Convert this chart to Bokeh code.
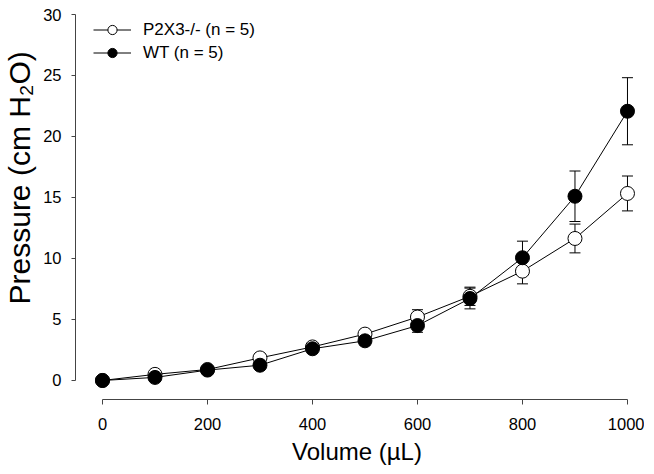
from bokeh.plotting import figure
from bokeh.models import Range1d, FixedTicker, Whisker, TeeHead, ColumnDataSource, Legend, LegendItem
from bokeh.embed import file_html
from bokeh.resources import INLINE

volume = [0, 100, 200, 300, 400, 500, 600, 700, 800, 900, 1000]
ko_mean = [0.0, 0.5, 0.9, 1.85, 2.75, 3.8, 5.2, 6.9, 8.96, 11.64, 15.33]
ko_err = [0.05, 0.12, 0.12, 0.2, 0.3, 0.3, 0.6, 0.75, 1.04, 1.18, 1.43]
wt_mean = [0.0, 0.25, 0.85, 1.25, 2.6, 3.25, 4.5, 6.72, 10.06, 15.1, 22.07]
wt_err = [0.05, 0.1, 0.12, 0.2, 0.35, 0.35, 0.55, 0.85, 1.36, 2.07, 2.75]
x_ticks = [0, 200, 400, 600, 800, 1000]
y_ticks = [0, 5, 10, 15, 20, 25, 30]
ko_label = "P2X3-/- (n = 5)"
wt_label = "WT (n = 5)"
x_title = "Volume (µL)"
y_title = "Pressure (cm H₂O)"

FONT = "Liberation Sans"

ko_src = ColumnDataSource(dict(x=volume, y=ko_mean,
                               lo=[m - e for m, e in zip(ko_mean, ko_err)],
                               hi=[m + e for m, e in zip(ko_mean, ko_err)]))
wt_src = ColumnDataSource(dict(x=volume, y=wt_mean,
                               lo=[m - e for m, e in zip(wt_mean, wt_err)],
                               hi=[m + e for m, e in zip(wt_mean, wt_err)]))

p = figure(frame_width=563, frame_height=385,
           x_range=Range1d(-51.4, 1021), y_range=Range1d(-1.56, 30),
           min_border_left=67, min_border_top=14, min_border_right=6, min_border_bottom=60,
           output_backend="svg", toolbar_location=None)
p.outline_line_color = None
p.xgrid.visible = False
p.ygrid.visible = False

for src in (ko_src, wt_src):
    w = Whisker(source=src, base="x", lower="lo", upper="hi", dimension="height",
                line_color="black", line_width=1,
                lower_head=TeeHead(size=11, line_color="black", line_width=1),
                upper_head=TeeHead(size=11, line_color="black", line_width=1))
    w.level = "underlay"
    p.add_layout(w)

ko_line = p.line("x", "y", source=ko_src, line_color="black", line_width=1)
ko_pts = p.scatter("x", "y", source=ko_src, size=14, fill_color="white", line_color="black", line_width=1)
wt_line = p.line("x", "y", source=wt_src, line_color="black", line_width=1)
wt_pts = p.scatter("x", "y", source=wt_src, size=14, fill_color="black", line_color="black", line_width=1)

legend = Legend(items=[LegendItem(label=ko_label, renderers=[ko_line, ko_pts]),
                       LegendItem(label=wt_label, renderers=[wt_line, wt_pts])],
                location=(18, 335), padding=2, margin=0, spacing=0,
                glyph_height=23, glyph_width=38, label_height=23, label_standoff=12,
                border_line_color=None, background_fill_alpha=0,
                label_text_font=FONT, label_text_font_size="17px", label_text_color="black")
p.add_layout(legend)

for ax in (p.xaxis[0], p.yaxis[0]):
    ax.axis_line_color = "#444444"
    ax.major_tick_line_color = "#444444"
    ax.minor_tick_line_color = None
    ax.major_tick_in = 0
    ax.major_label_text_font = FONT
    ax.major_label_text_font_size = "16.5px"
    ax.major_label_text_color = "black"
    ax.axis_label_text_font = FONT
    ax.axis_label_text_font_style = "normal"
    ax.axis_label_text_color = "black"

p.xaxis.bounds = (0, 1000)
p.xaxis.ticker = FixedTicker(ticks=x_ticks)
p.xaxis.major_tick_out = 5
p.xaxis.major_label_standoff = 13
p.xaxis.axis_label = x_title
p.xaxis.axis_label_text_font_size = "24px"
p.xaxis.axis_label_standoff = 5

p.yaxis.bounds = (0, 30)
p.yaxis.ticker = FixedTicker(ticks=y_ticks)
p.yaxis.major_tick_out = 4
p.yaxis.major_label_standoff = 10
# leading no-break spaces shift the centred title upward, as in the reference
p.yaxis.axis_label = "\u00a0" * 7 + y_title
p.yaxis.axis_label_text_font_size = "30px"
p.yaxis.axis_label_standoff = 4

open("out.html", "w").write(file_html(p, INLINE))
